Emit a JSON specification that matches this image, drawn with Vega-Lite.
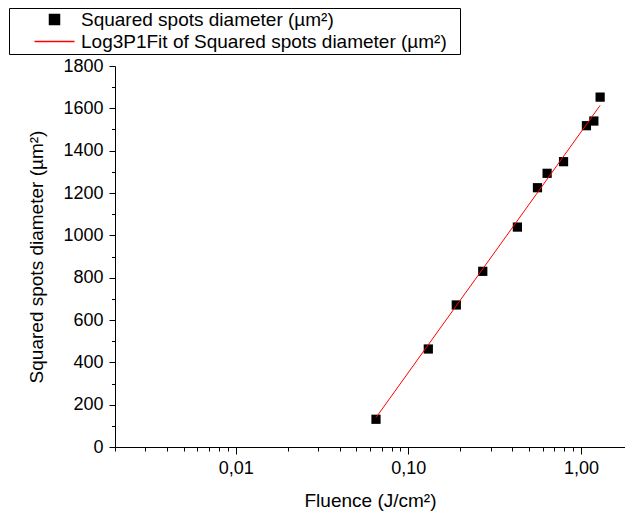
{
  "$schema": "https://vega.github.io/schema/vega-lite/v6.json",
  "autosize": "none",
  "width": 510,
  "height": 381,
  "padding": {"left": 115, "top": 66, "right": 0, "bottom": 64},
  "config": {
    "view": {"stroke": null},
    "font": "Liberation Sans",
    "axis": {
      "grid": false,
      "domainColor": "black",
      "tickColor": "black",
      "labelColor": "black",
      "titleColor": "black",
      "labelFont": "Liberation Sans",
      "titleFont": "Liberation Sans",
      "labelFontSize": 18,
      "titleFontSize": 19,
      "titleFontWeight": "normal",
      "domainWidth": 1,
      "tickWidth": 1
    },
    "legend": {
      "labelFont": "Liberation Sans"
    }
  },
  "layer": [
    {
      "data": {
        "values": [
          {"fluence": 0.065, "diameter2": 131, "series": "Squared spots diameter (µm²)"},
          {"fluence": 0.1306, "diameter2": 463, "series": "Squared spots diameter (µm²)"},
          {"fluence": 0.1897, "diameter2": 671, "series": "Squared spots diameter (µm²)"},
          {"fluence": 0.27, "diameter2": 830, "series": "Squared spots diameter (µm²)"},
          {"fluence": 0.4285, "diameter2": 1039, "series": "Squared spots diameter (µm²)"},
          {"fluence": 0.56, "diameter2": 1225, "series": "Squared spots diameter (µm²)"},
          {"fluence": 0.637, "diameter2": 1293, "series": "Squared spots diameter (µm²)"},
          {"fluence": 0.793, "diameter2": 1348, "series": "Squared spots diameter (µm²)"},
          {"fluence": 1.076, "diameter2": 1518, "series": "Squared spots diameter (µm²)"},
          {"fluence": 1.188, "diameter2": 1540, "series": "Squared spots diameter (µm²)"},
          {"fluence": 1.292, "diameter2": 1653, "series": "Squared spots diameter (µm²)"}
        ]
      },
      "mark": {"type": "point", "filled": true, "size": 85, "opacity": 1},
      "encoding": {
        "x": {
          "field": "fluence", "type": "quantitative",
          "scale": {"type": "log", "domain": [0.002, 1.8], "nice": false},
          "axis": {
            "values": [0.01, 0.1, 1],
            "labelExpr": "replace(format(datum.value, '.2f'), '.', ',')",
            "tickSize": 7,
            "labelPadding": 5,
            "title": "Fluence (J/cm²)",
            "titlePadding": 14
          }
        },
        "y": {
          "field": "diameter2", "type": "quantitative",
          "scale": {"domain": [0, 1800], "nice": false, "zero": false},
          "axis": {
            "values": [0, 200, 400, 600, 800, 1000, 1200, 1400, 1600, 1800],
            "format": "d",
            "tickSize": 6,
            "labelPadding": 6,
            "title": "Squared spots diameter (µm²)",
            "titlePadding": 16
          }
        },
        "color": {
          "field": "series", "type": "nominal",
          "scale": {"domain": ["Squared spots diameter (µm²)", "Log3P1Fit of Squared spots diameter (µm²)"], "range": ["black", "red"]},
          "legend": {
            "title": null,
            "orient": "none",
            "legendX": -106,
            "legendY": -58,
            "padding": 2,
            "strokeColor": "black",
            "fillColor": "white",
            "labelFontSize": 19,
            "labelColor": "black",
            "labelLimit": 600,
            "symbolSize": 100,
            "symbolOffset": 34,
            "labelOffset": 17,
            "rowPadding": 2,
            "labelExpr": "datum.label + '\u00a0\u00a0\u200b'",
            "encode": {"symbols": {"update": {"stroke": {"scale": "color", "field": "value"}, "strokeWidth": {"value": 1}}}}
          }
        },
        "shape": {
          "field": "series", "type": "nominal",
          "scale": {"domain": ["Squared spots diameter (µm²)", "Log3P1Fit of Squared spots diameter (µm²)"], "range": ["square", "M-4,0H4"]},
          "legend": {
            "title": null,
            "orient": "none",
            "legendX": -106,
            "legendY": -58,
            "padding": 2,
            "strokeColor": "black",
            "fillColor": "white",
            "labelFontSize": 19,
            "labelColor": "black",
            "labelLimit": 600,
            "symbolSize": 100,
            "symbolOffset": 34,
            "labelOffset": 17,
            "rowPadding": 2,
            "labelExpr": "datum.label + '\u00a0\u00a0\u200b'",
            "encode": {"symbols": {"update": {"stroke": {"scale": "color", "field": "value"}, "strokeWidth": {"value": 1}}}}
          }
        }
      }
    },
    {
      "data": {
        "values": [
          {"fluence": 0.065, "diameter2": 139, "series": "Log3P1Fit of Squared spots diameter (µm²)"},
          {"fluence": 1.292, "diameter2": 1614, "series": "Log3P1Fit of Squared spots diameter (µm²)"}
        ]
      },
      "mark": {"type": "line", "strokeWidth": 1},
      "encoding": {
        "x": {
          "field": "fluence", "type": "quantitative",
          "axis": {
            "orient": "bottom",
            "values": [0.002, 0.003, 0.004, 0.005, 0.006, 0.007, 0.008, 0.009, 0.02, 0.03, 0.04, 0.05, 0.06, 0.07, 0.08, 0.09, 0.2, 0.3, 0.4, 0.5, 0.6, 0.7, 0.8, 0.9],
            "labels": false,
            "domain": false,
            "tickSize": 4,
            "title": null
          }
        },
        "y": {
          "field": "diameter2", "type": "quantitative",
          "axis": {
            "orient": "left",
            "values": [100, 300, 500, 700, 900, 1100, 1300, 1500, 1700],
            "labels": false,
            "domain": false,
            "tickSize": 3.5,
            "title": null
          }
        },
        "color": {
          "field": "series", "type": "nominal"
        }
      }
    }
  ],
  "resolve": {"axis": {"x": "independent", "y": "independent"}}
}
